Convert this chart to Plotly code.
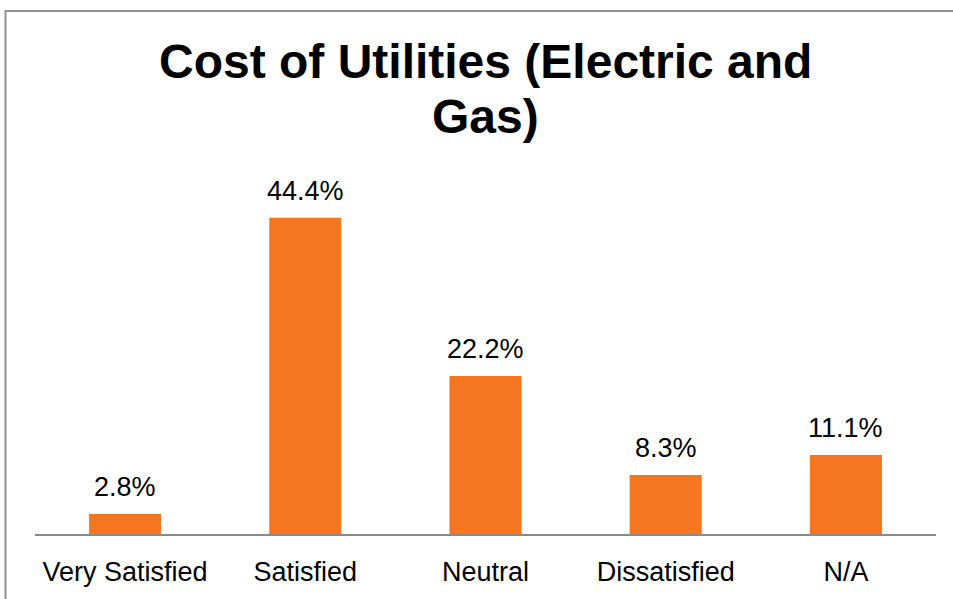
import plotly.graph_objects as go

categories = ["Very Satisfied", "Satisfied", "Neutral", "Dissatisfied", "N/A"]
values = [2.8, 44.4, 22.2, 8.3, 11.1]
labels = ["2.8%", "44.4%", "22.2%", "8.3%", "11.1%"]
title_lines = ["Cost of Utilities (Electric and", "Gas)"]

FONT = "Helvetica, 'Liberation Sans', Arial, sans-serif"
ORANGE = "#F47621"

fig = go.Figure()
fig.add_trace(go.Bar(
    x=categories, y=values,
    marker=dict(color=ORANGE, line=dict(width=0)),
    hoverinfo="skip",
))

for c, v, t in zip(categories, values, labels):
    fig.add_annotation(text=t, x=c, y=v, xref="x", yref="y", yanchor="bottom",
                       yshift=10, showarrow=False,
                       font=dict(family=FONT, size=27, color="black"))

# plot area: x 35..936, y 178..538 px
def py(px):
    return (538 - px) / 360.0

fig.add_annotation(text=title_lines[0], xref="paper", yref="paper", x=0.5, y=py(60),
                   yanchor="middle", xanchor="center", showarrow=False,
                   font=dict(family=FONT, size=48, color="black", weight="bold"))
fig.add_annotation(text=title_lines[1], xref="paper", yref="paper", x=0.5, y=py(116),
                   yanchor="middle", xanchor="center", showarrow=False,
                   font=dict(family=FONT, size=48, color="black", weight="bold"))

fig.add_shape(type="rect", xref="paper", yref="paper",
              x0=(5.5 - 35) / 901, x1=1.2, y0=-0.5, y1=py(9),
              line=dict(color="#8f8f8f", width=2), layer="below")

fig.update_layout(
    width=953, height=599,
    margin=dict(l=35, r=17, t=178, b=61),
    paper_bgcolor="white", plot_bgcolor="white",
    bargap=0.6, showlegend=False,
    xaxis=dict(showline=True, linecolor="#8a8a8a", linewidth=2, showgrid=False,
               ticks="outside", ticklen=13, tickcolor="rgba(0,0,0,0)",
               tickfont=dict(family=FONT, size=27, color="black"), zeroline=False),
    yaxis=dict(range=[0, 50], visible=False, showgrid=False, zeroline=False),
)

fig.write_html("out.html")
